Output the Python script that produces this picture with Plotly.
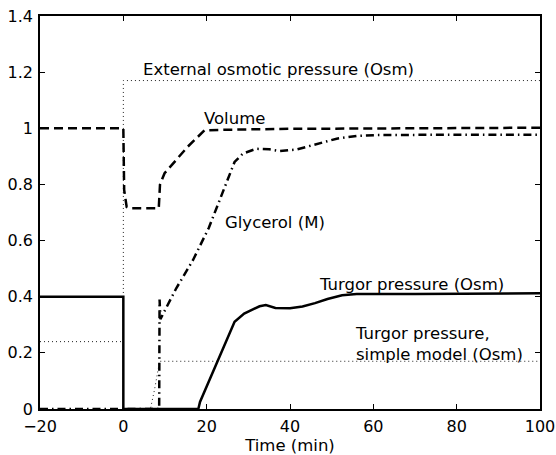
import plotly.graph_objects as go

# ---- data ----
ext_t = [-20, 0, 0, 100]
ext_v = [0.24, 0.24, 1.17, 1.17]

simple_t = [-20, 0, 0, 6.5, 7.5, 8.7, 100]
simple_v = [0.40, 0.40, 0.0, 0.0, 0.07, 0.17, 0.17]

vol_t = [-20, 0, 0.2, 0.8, 1.5, 8.5, 8.8, 9.9, 15.5, 19.5, 25, 40, 100]
vol_v = [1.0, 1.0, 0.78, 0.72, 0.715, 0.715, 0.80, 0.84, 0.935, 0.993, 0.995, 0.998, 1.002]

gly_t = [-20, 8.6, 8.7, 8.9, 12.7, 16.7, 20.5, 23.1, 26.7, 28.7, 31.9, 35, 37.5,
         41.5, 46.4, 51.2, 56, 60.8, 80, 100]
gly_v = [0.0, 0.0, 0.39, 0.32, 0.43, 0.53, 0.645, 0.745, 0.88, 0.91, 0.927, 0.925,
         0.919, 0.924, 0.944, 0.963, 0.973, 0.976, 0.977, 0.977]

turg_t = [-20, 0, 0, 18, 18.4, 26.7, 29, 32.7, 34.2, 36.5, 40, 43, 46, 49, 52.5,
          56, 70, 85, 100]
turg_v = [0.4, 0.4, 0.0, 0.0, 0.025, 0.311, 0.34, 0.366, 0.37, 0.36, 0.359, 0.365,
          0.377, 0.392, 0.405, 0.41, 0.41, 0.412, 0.412]

x_ticks = [-20, 0, 20, 40, 60, 80, 100]
y_ticks = [0, 0.2, 0.4, 0.6, 0.8, 1.0, 1.2, 1.4]

labels = [
    ("External osmotic pressure (Osm)", 4.3, 1.208),
    ("Volume", 18.9, 1.034),
    ("Glycerol (M)", 23.8, 0.665),
    ("Turgor pressure (Osm)", 46.4, 0.442),
    ("Turgor pressure,<br>simple model (Osm)", 55.2, 0.231),
]

FONT = "DejaVu Sans"

fig = go.Figure()
fig.add_trace(go.Scatter(x=ext_t, y=ext_v, mode="lines",
                         line=dict(color="#222", width=1, dash="1px,3px")))
fig.add_trace(go.Scatter(x=simple_t, y=simple_v, mode="lines",
                         line=dict(color="#222", width=1, dash="1px,3px")))
fig.add_trace(go.Scatter(x=vol_t, y=vol_v, mode="lines",
                         line=dict(color="black", width=2.5, dash="9px,5px")))
fig.add_trace(go.Scatter(x=gly_t, y=gly_v, mode="lines",
                         line=dict(color="black", width=2.5, dash="8px,4px,1.5px,4px")))
fig.add_trace(go.Scatter(x=turg_t, y=turg_v, mode="lines",
                         line=dict(color="black", width=2.5)))

for txt, x, y in labels:
    fig.add_annotation(x=x, y=y, text=txt, showarrow=False, xanchor="left",
                       yanchor="middle", align="left",
                       font=dict(family=FONT, size=16.5, color="black"))

axis_common = dict(showgrid=False, zeroline=False, showline=True, linecolor="black",
                   linewidth=1.5, mirror="ticks", ticks="inside", ticklen=5,
                   tickcolor="black", tickwidth=1, automargin=False,
                   tickfont=dict(family=FONT, size=16, color="black"))

fig.update_xaxes(range=[-20, 100], tickvals=x_ticks, ticklabelstandoff=2,
                 title=dict(text="Time (min)", font=dict(family=FONT, size=16.5, color="black"),
                            standoff=3),
                 **axis_common)
fig.update_yaxes(range=[0, 1.4], tickvals=y_ticks, ticklabelstandoff=2, **axis_common)

fig.update_layout(width=556, height=455, showlegend=False,
                  margin=dict(l=40, r=16, t=16, b=46),
                  plot_bgcolor="white", paper_bgcolor="white")

fig.write_html("out.html", config={"displayModeBar": False},
               post_script="document.body.style.margin='0';document.body.style.overflow='hidden';")
